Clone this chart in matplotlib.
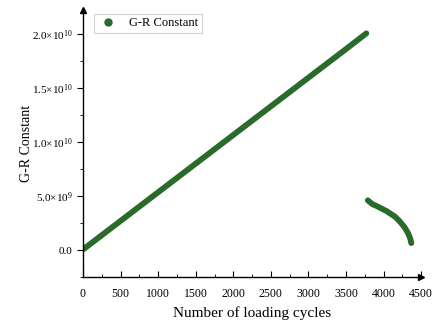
import matplotlib
matplotlib.use("Agg")
import matplotlib.pyplot as plt
from matplotlib.ticker import MultipleLocator, FuncFormatter
from matplotlib.lines import Line2D

plt.rcParams['font.family'] = ['Liberation Serif', 'DejaVu Serif']
plt.rcParams['mathtext.fontset'] = 'custom'
plt.rcParams['mathtext.rm'] = 'Liberation Serif'
plt.rcParams['mathtext.it'] = 'Liberation Serif:italic'

# Rising branch (cycles, G-R constant)
cycles_rise = [0, 500, 1000, 1500, 2000, 2500, 3000, 3500, 3770]
gr_rise = [0.05e9, 2.7e9, 5.35e9, 8.0e9, 10.65e9, 13.3e9, 15.95e9, 18.6e9, 20.05e9]
# Falling branch
cycles_fall = [3790, 3850, 3900, 4040, 4150, 4215, 4280, 4326, 4355, 4368]
gr_fall = [4.6e9, 4.25e9, 4.1e9, 3.6e9, 3.1e9, 2.65e9, 2.1e9, 1.55e9, 1.05e9, 0.65e9]

series_label = "G-R Constant"
color = '#2a6a2a'

fig = plt.figure(figsize=(4.45, 3.26), dpi=100)
ax = fig.add_axes([0.1865, 0.150, 0.760, 0.819])

ax.plot(cycles_rise, gr_rise, color=color, lw=4.2, solid_capstyle='round')
ax.plot(cycles_fall, gr_fall, color=color, lw=4.2, solid_capstyle='round', solid_joinstyle='round')

ax.set_xlim(0, 4500)
ax.set_ylim(-2.5e9, 2.22e10)

ax.spines['top'].set_visible(False)
ax.spines['right'].set_visible(False)
for s in ['left', 'bottom']:
    ax.spines[s].set_linewidth(1.0)

ax.xaxis.set_major_locator(MultipleLocator(500))
ax.xaxis.set_minor_locator(MultipleLocator(250))
ax.yaxis.set_major_locator(MultipleLocator(5e9))
ax.yaxis.set_minor_locator(MultipleLocator(2.5e9))

def yfmt(v, pos):
    if abs(v) < 1:
        return "0.0"
    e = 0
    m = v
    while abs(m) >= 10:
        m /= 10
        e += 1
    return r"$%.1f{\times}10^{%d}$" % (m, e)

ax.yaxis.set_major_formatter(FuncFormatter(yfmt))
ax.tick_params(axis='x', which='major', direction='in', length=4, labelsize=8.5, pad=8)
ax.tick_params(axis='x', which='minor', direction='in', length=2.5)
ax.tick_params(axis='y', which='major', direction='out', length=4, labelsize=8)
ax.tick_params(axis='y', which='minor', direction='out', length=2.5)

ax.set_xlabel("Number of loading cycles", fontsize=11, labelpad=4)
ax.set_ylabel("G-R Constant", fontsize=10, labelpad=-1)

# axis arrows
ax.plot(1, 0, marker='>', color='k', markersize=5, transform=ax.transAxes, clip_on=False)
ax.plot(0, 1, marker='^', color='k', markersize=5, transform=ax.transAxes, clip_on=False)

handle = Line2D([], [], marker='o', color=color, linestyle='none', markersize=5)
leg = ax.legend([handle], [series_label], loc='upper left', bbox_to_anchor=(0.015, 1.01),
                fontsize=9, frameon=True, fancybox=False, edgecolor='#c8c8c8',
                handletextpad=0.9, borderpad=0.3, handlelength=1.6)
leg.get_frame().set_linewidth(0.8)

fig.savefig("out.png", dpi=100)
